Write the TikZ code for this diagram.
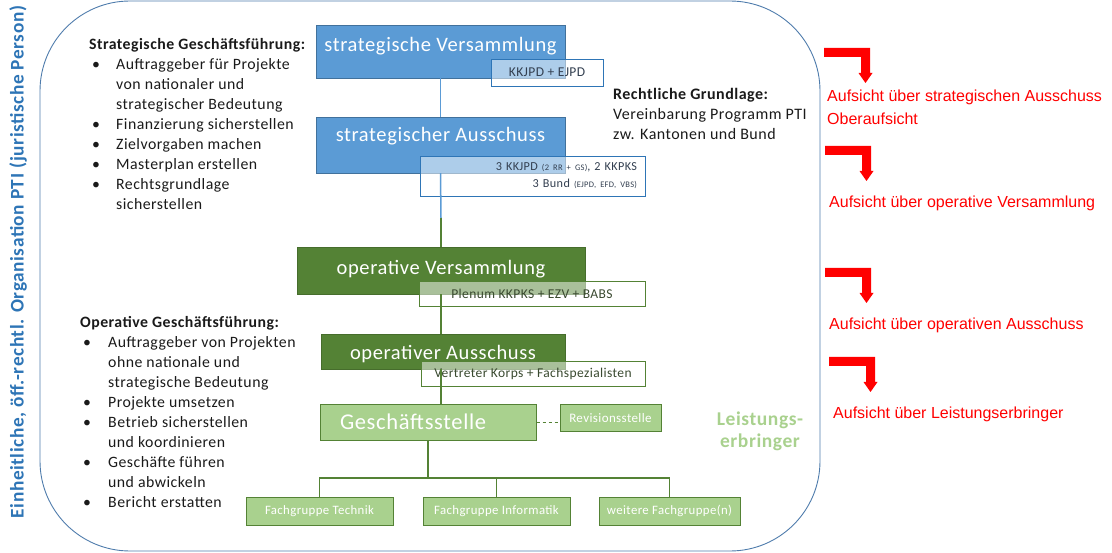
\documentclass[tikz,border=0pt]{standalone}
\usepackage{fontspec}
\setmainfont{Carlito}[LetterSpace=3]
\newfontfamily\arialfont{Liberation Sans}
\usepackage{array}

\definecolor{stratblau}{HTML}{5B9BD5}
\definecolor{blaurand}{HTML}{41719C}
\definecolor{subblau}{HTML}{2E75B6}
\definecolor{subtext}{HTML}{333F50}
\definecolor{dunkelgruen}{HTML}{548235}
\definecolor{gruenrand}{HTML}{466D2C}
\definecolor{gruentext}{HTML}{3A4A30}
\definecolor{hellgruen}{HTML}{A9D18E}
\definecolor{hellgruenrand}{HTML}{548235}
\definecolor{rahmenblau}{HTML}{4F7CAC}
\definecolor{titelblau}{HTML}{2E75B6}
\definecolor{aufsichtrot}{HTML}{FF0000}
\definecolor{fliesstext}{HTML}{1A1A1A}

\tikzset{
	blaukasten/.style={fill=stratblau, draw=blaurand, text=white, inner sep=0pt,
		font=\fontsize{20.5}{24}\selectfont},
	gruenkasten/.style={fill=dunkelgruen, draw=gruenrand, text=white, inner sep=0pt,
		font=\fontsize{20.5}{24}\selectfont},
	hellkasten/.style={fill=hellgruen, draw=hellgruenrand, line width=1pt, text=white, inner sep=0pt,
		font=\fontsize{12.8}{15}\selectfont},
	blausub/.style={draw=subblau, fill=white, fill opacity=.5, text opacity=1, text=subtext,
		inner sep=0pt, font=\fontsize{13.5}{15}\selectfont},
	gruensub/.style={draw=dunkelgruen, fill=white, fill opacity=.5, text opacity=1, text=gruentext,
		inner sep=0pt, font=\fontsize{13.5}{15}\selectfont},
	blaulinie/.style={draw=stratblau, line width=1.5pt},
	gruenlinie/.style={draw=dunkelgruen, line width=1.5pt},
	liste/.style={text=fliesstext, inner sep=0pt, font=\fontsize{15.8}{20}\selectfont},
	aufsicht/.style={text=aufsichtrot, inner sep=0pt, align=left,
		font=\arialfont\fontsize{16}{23}\selectfont, anchor=base west},
}

% gebogener Pfeil, Ecke oben links
\newcommand{\aufsichtpfeil}[1]{%
	\fill[aufsichtrot] (#1) -- ++(46,0) -- ++(0,25) -- ++(2.5,0) -- ++(-7,10)
		-- ++(-7,-10) -- ++(2.5,0) -- ++(0,-16) -- ++(-37,0) -- cycle;}

\begin{document}
\begin{tikzpicture}[x=1pt, y=-1pt]
\useasboundingbox (0,0) rectangle (1112,553);

% Rahmen
\draw[rahmenblau, line width=.9pt, rounded corners=90pt] (40,1) rectangle (820,551);
\node[rotate=90, text=titelblau, font=\bfseries\fontsize{19.3}{22}\selectfont, inner sep=0pt]
	(titel) at (18,262) {Einheitliche, öff.-rechtl. Organisation PTI (juristische Person)};

% strategische Ebene
\node[blaukasten, minimum width=249pt, text height=26.5pt, text depth=26.5pt] (sv) at (440.5,51.5) {strategische Versammlung};
\node[blausub, minimum width=112pt, minimum height=27pt] (svsub) at (547,72.5) {KKJPD + EJPD};
\node[blaukasten, minimum width=249pt, text height=24.5pt, text depth=31.5pt] (sa) at (440.5,145) {strategischer Ausschuss};
\node[blausub, text width=209pt, inner xsep=8pt, minimum height=40pt, align=right,
	font=\fontsize{12.2}{17}\selectfont] (sasub) at (532.5,176)
	{3 KKJPD {\fontsize{8.5}{8}\selectfont(2 RR + GS)}, 2 KKPKS\\3 Bund {\fontsize{8.5}{8}\selectfont(EJPD, EFD, VBS)}};

% operative Ebene
\node[gruenkasten, minimum width=288pt, text height=27.5pt, text depth=19.5pt] (ov) at (441,270.5) {operative Versammlung};
\node[gruensub, minimum width=226pt, minimum height=25pt] (ovsub) at (532,293.5) {Plenum KKPKS + EZV + BABS};
\node[gruenkasten, minimum width=244pt, text height=25.5pt, text depth=9.5pt] (oa) at (443,351.5) {operativer Ausschuss};
\node[gruensub, minimum width=224pt, minimum height=25pt] (oasub) at (533,373.5) {Vertreter Korps + Fachspezialisten};

% Leistungserbringer
\node[hellkasten, text width=176pt, inner xsep=20pt, align=left, text height=24pt, text depth=12pt,
	font=\fontsize{22.5}{26}\selectfont] (gs) at (428,423) {Geschäftsstelle};
\node[hellkasten, minimum width=101pt, minimum height=27pt, font=\fontsize{13}{15}\selectfont] (rs) at (610.5,418.5) {Revisionsstelle};
\node[hellkasten, minimum width=147pt, minimum height=28pt] (fg1) at (319.5,511) {Fachgruppe Technik};
\node[hellkasten, minimum width=147pt, minimum height=28pt] (fg2) at (496.5,511) {Fachgruppe Informatik};
\node[hellkasten, minimum width=141pt, minimum height=28pt] (fg3) at (669.5,511) {weitere Fachgruppe(n)};
\node[text=hellgruen, font=\bfseries\fontsize{19.5}{22}\selectfont, align=center, inner sep=0pt]
	(le) at (760,431) {Leistungs-\\erbringer};

% Verbindungen
\coordinate (wechsel) at (441,218);
\coordinate (ast) at (428,478);
\draw[blaulinie] (sv.south) -- (sa.north);
\draw[blaulinie] (sa.south) -- (wechsel);
\draw[gruenlinie] (wechsel) -- (ov.north);
\draw[gruenlinie] (ov.south) -- (ov.south |- oa.north);
\draw[gruenlinie] (ov.south |- oa.south) -- (ov.south |- gs.north);
\draw[gruenlinie] (gs.south) -- (ast);
\draw[gruenlinie] (fg1.north) |- (ast) -| (fg3.north);
\draw[gruenlinie] (fg2.north) -- (fg2.north |- ast);
\draw[dunkelgruen, line width=1pt, dash pattern=on 3pt off 3pt] (gs.east) -- (gs.east -| rs.west);

% Texte links
\node[liste, anchor=base west] (strat) at (89,50) {\begin{tabular}[t]{@{}>{\hspace{3pt}}p{27pt}@{}l@{}}
	\multicolumn{2}{@{}l@{}}{\textbf{Strategische Geschäftsführung:}}\\
	\textbullet & Auftraggeber für Projekte\\
	& von nationaler und\\
	& strategischer Bedeutung\\
	\textbullet & Finanzierung sicherstellen\\
	\textbullet & Zielvorgaben machen\\
	\textbullet & Masterplan erstellen\\
	\textbullet & Rechtsgrundlage\\
	& sicherstellen
\end{tabular}};
\node[liste, anchor=base west] (oper) at (80,328) {\begin{tabular}[t]{@{}>{\hspace{3pt}}p{28pt}@{}l@{}}
	\multicolumn{2}{@{}l@{}}{\textbf{Operative Geschäftsführung:}}\\
	\textbullet & Auftraggeber von Projekten\\
	& ohne nationale und\\
	& strategische Bedeutung\\
	\textbullet & Projekte umsetzen\\
	\textbullet & Betrieb sicherstellen\\
	& und koordinieren\\
	\textbullet & Geschäfte führen\\
	& und abwickeln\\
	\textbullet & Bericht erstatten
\end{tabular}};
\node[liste, anchor=base west, align=left, font=\fontsize{16}{20}\selectfont] (recht) at (613,140)
	{\textbf{Rechtliche Grundlage:}\\Vereinbarung Programm PTI\\zw. Kantonen und Bund};

% Aufsicht rechts
\aufsichtpfeil{824,48}
\aufsichtpfeil{825,146}
\aufsichtpfeil{825,268}
\aufsichtpfeil{829,357}
\node[aufsicht] (auf1) at (827,125) {Aufsicht über strategischen Ausschuss\\Oberaufsicht};
\node[aufsicht] (auf2) at (829,208) {Aufsicht über operative Versammlung};
\node[aufsicht] (auf3) at (829,330) {Aufsicht über operativen Ausschuss};
\node[aufsicht] (auf4) at (833,419) {Aufsicht über Leistungserbringer};

\end{tikzpicture}
\end{document}
